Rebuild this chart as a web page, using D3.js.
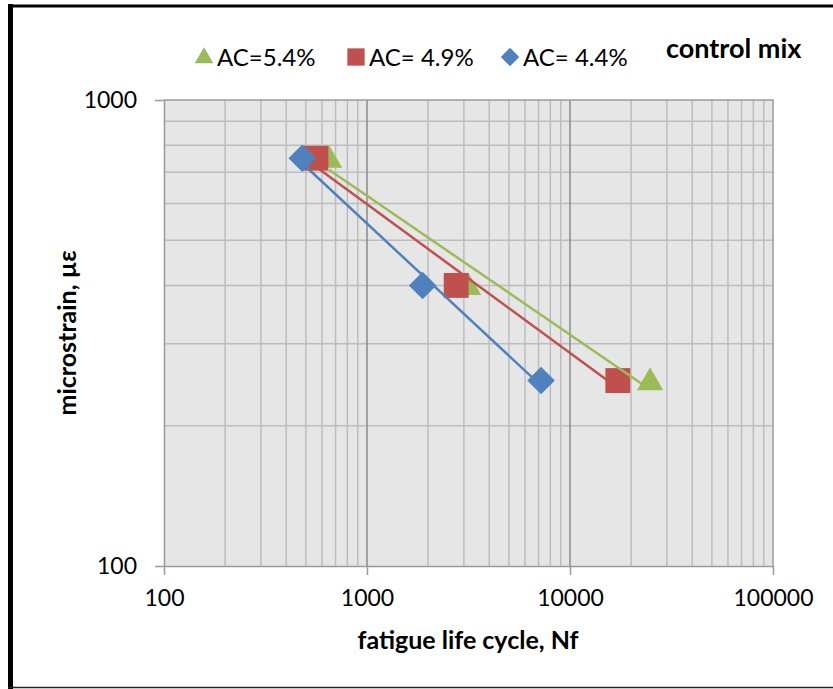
<!DOCTYPE html>
<html>
<head>
<meta charset="utf-8">
<script src="https://cdn.jsdelivr.net/npm/d3@7.9.0/dist/d3.min.js"></script>
<style>
  html, body { margin: 0; padding: 0; background: #fff; }
  svg text { font-family: Lato, "Open Sans", sans-serif; fill: #000; }
</style>
</head>
<body>
<svg id="chart" width="833" height="689"></svg>
<script>
// values
const strain = [750, 400, 250];
const cyclesAC54 = [650, 3150, 24800];
const cyclesAC49 = [560, 2750, 17200];
const cyclesAC44 = [480, 1880, 7200];
const xTicks = [100, 1000, 10000, 100000];
const yTicks = [100, 1000];

const series = [
  { label: 'AC=5.4%', cycles: cyclesAC54, color: '#9BBB59', shape: 'triangle' },
  { label: 'AC= 4.9%', cycles: cyclesAC49, color: '#C0504D', shape: 'square' },
  { label: 'AC= 4.4%', cycles: cyclesAC44, color: '#4F81BD', shape: 'diamond' },
];

const svg = d3.select('#chart');
const plotL = 164, plotR = 773, plotT = 100, plotB = 566;

const x = d3.scaleLog().domain([100, 100000]).range([plotL, plotR]);
const y = d3.scaleLog().domain([100, 1000]).range([plotB, plotT]);

// outer frame
svg.append('line').attr('x1', 10.5).attr('x2', 10.5).attr('y1', 4).attr('y2', 689)
  .attr('stroke', '#000').attr('stroke-width', 5);
svg.append('line').attr('x1', 8).attr('x2', 833).attr('y1', 6).attr('y2', 6)
  .attr('stroke', '#000').attr('stroke-width', 3);
svg.append('line').attr('x1', 8).attr('x2', 833).attr('y1', 687.5).attr('y2', 687.5)
  .attr('stroke', '#222').attr('stroke-width', 1.5);

// plot background
svg.append('rect').attr('x', plotL).attr('y', plotT)
  .attr('width', plotR - plotL).attr('height', plotB - plotT).attr('fill', '#E6E6E6');

// minor grid
const minorX = [];
for (let d = 100; d < 100000; d *= 10) for (let k = 2; k <= 9; k++) minorX.push(d * k);
const minorY = [];
for (let k = 2; k <= 9; k++) minorY.push(100 * k);

svg.append('g').selectAll('line').data(minorX).join('line')
  .attr('x1', d => x(d)).attr('x2', d => x(d)).attr('y1', plotT).attr('y2', plotB)
  .attr('stroke', '#BDBDBD').attr('stroke-width', 1.5);
svg.append('g').selectAll('line').data(minorY).join('line')
  .attr('x1', plotL).attr('x2', plotR).attr('y1', d => y(d)).attr('y2', d => y(d))
  .attr('stroke', '#BDBDBD').attr('stroke-width', 1.5);
svg.append('g').selectAll('line').data([1000, 10000]).join('line')
  .attr('x1', d => x(d)).attr('x2', d => x(d)).attr('y1', plotT).attr('y2', plotB)
  .attr('stroke', '#8A8A8A').attr('stroke-width', 1.5);

// plot border (top/right)
svg.append('path')
  .attr('d', `M${plotL},${plotT}H${plotR}V${plotB}`)
  .attr('fill', 'none').attr('stroke', '#9A9A9A').attr('stroke-width', 1.5);

// axes
const fmt = d3.format('d');
const xAxis = svg.append('g').attr('transform', `translate(0,${plotB})`)
  .call(d3.axisBottom(x).tickValues(xTicks).tickFormat(fmt).tickSize(9).tickSizeOuter(0).tickPadding(15));
const yAxis = svg.append('g').attr('transform', `translate(${plotL},0)`)
  .call(d3.axisLeft(y).tickValues(yTicks).tickFormat(fmt).tickSize(9).tickSizeOuter(0).tickPadding(18));
[xAxis, yAxis].forEach(a => {
  a.selectAll('path.domain').attr('stroke', '#9A9A9A').attr('stroke-width', 1.5);
  a.selectAll('.tick line').attr('stroke', '#9A9A9A').attr('stroke-width', 1.5);
  a.selectAll('.tick text').attr('font-size', 23).attr('font-family', 'Lato').attr('fill', '#000');
});
yAxis.selectAll('.tick text').attr('dy', '0.34em');

// markers
const symbolFor = {
  triangle: d3.symbol().type(d3.symbolTriangle).size(300),
  square: d3.symbol().type(d3.symbolSquare).size(620),
  diamond: d3.symbol().type(d3.symbolSquare).size(380),
};
function markerTransform(shape, px, py) {
  if (shape === 'diamond') return `translate(${px},${py}) rotate(45)`;
  if (shape === 'triangle') return `translate(${px},${py + 2})`;
  return `translate(${px},${py})`;
}

series.forEach(s => {
  const pts = s.cycles.map((c, i) => [c, strain[i]]);
  svg.append('g').selectAll('path').data(pts).join('path')
    .attr('d', symbolFor[s.shape])
    .attr('transform', d => markerTransform(s.shape, x(d[0]), y(d[1])))
    .attr('fill', s.color);
});

// power trendlines (least squares in log-log space)
series.forEach(s => {
  const lx = s.cycles.map(Math.log10), ly = strain.map(Math.log10);
  const mx = d3.mean(lx), my = d3.mean(ly);
  const b = d3.sum(lx, (v, i) => (v - mx) * (ly[i] - my)) / d3.sum(lx, v => (v - mx) ** 2);
  const a = my - b * mx;
  const ends = d3.extent(s.cycles).map(c => [c, Math.pow(10, a + b * Math.log10(c))]);
  svg.append('path')
    .attr('d', d3.line().x(d => x(d[0])).y(d => y(d[1]))(ends))
    .attr('stroke', s.color).attr('stroke-width', 2.5).attr('fill', 'none');
});

// legend
const legendX = [204, 356, 510];
series.forEach((s, i) => {
  const g = svg.append('g').attr('transform', `translate(${legendX[i]},57)`);
  const sym = s.shape === 'triangle' ? d3.symbol().type(d3.symbolTriangle).size(150)
    : s.shape === 'square' ? d3.symbol().type(d3.symbolSquare).size(300)
    : d3.symbol().type(d3.symbolSquare).size(170);
  g.append('path').attr('d', sym).attr('fill', s.color)
    .attr('transform', s.shape === 'diamond' ? 'rotate(45)' : s.shape === 'triangle' ? 'translate(0,1)' : null);
  g.append('text').attr('x', 13).attr('y', 0).attr('dy', '0.36em')
    .attr('font-size', 24).text(s.label);
});
svg.append('text').attr('x', 666).attr('y', 58).attr('font-size', 27)
  .attr('font-weight', 'bold').text('control mix');

// axis titles
svg.append('text').attr('x', 468).attr('y', 649).attr('text-anchor', 'middle')
  .attr('font-size', 25).attr('font-weight', 'bold').text('fatigue life cycle, Nf');
svg.append('text').attr('transform', 'translate(76,333) rotate(-90)')
  .attr('text-anchor', 'middle').attr('font-size', 25).attr('font-weight', 'bold')
  .text('microstrain, µε');
</script>
</body>
</html>
